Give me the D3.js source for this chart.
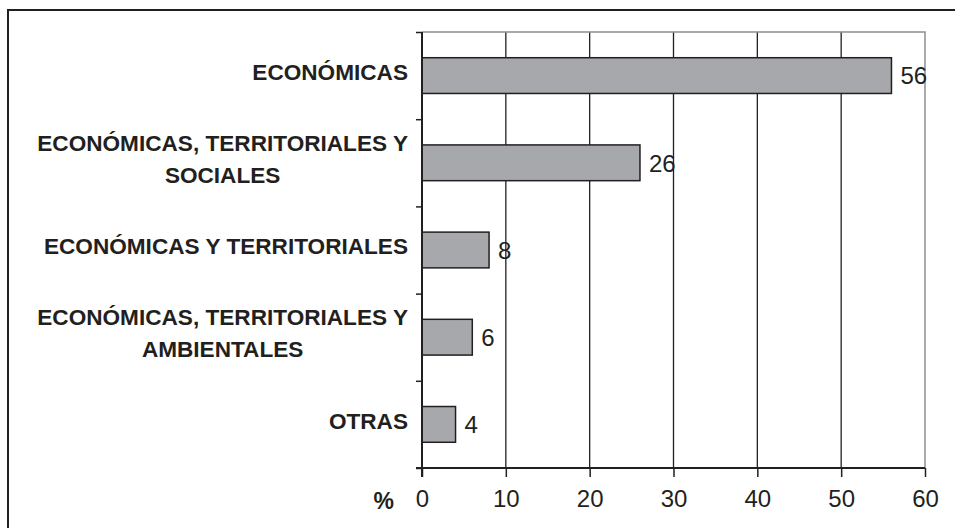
<!DOCTYPE html>
<html>
<head>
<meta charset="utf-8">
<script src="https://cdn.jsdelivr.net/npm/d3@7"></script>
<style>
  body { margin: 0; background: #fff; }
  svg { display: block; }
  text { font-family: "Liberation Sans", Arial, Helvetica, sans-serif; fill: #231f20; }
</style>
</head>
<body>
<div id="chart"></div>
<script>
// data
var categories = [
  ["ECONÓMICAS"],
  ["ECONÓMICAS, TERRITORIALES Y", "SOCIALES"],
  ["ECONÓMICAS Y TERRITORIALES"],
  ["ECONÓMICAS, TERRITORIALES Y", "AMBIENTALES"],
  ["OTRAS"]
];
var values = [56, 26, 8, 6, 4];
var xTicks = [0, 10, 20, 30, 40, 50, 60];
var xUnit = "%";

var W = 955, H = 528;
// plot box (note: "top" is reserved on window, so use plot* names)
var plotL = 422, plotR = 925, plotT = 32, plotB = 468;
var ink = "#231f20";

var svg = d3.select("#chart").append("svg")
  .attr("width", W).attr("height", H);

// outer frame (only top and left visible in the crop)
svg.append("line").attr("x1", 8).attr("x2", W).attr("y1", 10).attr("y2", 10)
  .attr("stroke", ink).attr("stroke-width", 2);
svg.append("line").attr("x1", 8).attr("x2", 8).attr("y1", 9).attr("y2", H)
  .attr("stroke", ink).attr("stroke-width", 2);

var x = d3.scaleLinear().domain([0, 60]).range([plotL, plotR]);
var y = d3.scaleBand().domain(d3.range(categories.length))
  .range([plotT, plotB]).paddingInner(0.59).paddingOuter(0.295);
var yEdge = d3.scaleLinear().domain([0, categories.length]).range([plotT, plotB]);

// gridlines
svg.append("g").selectAll("line")
  .data(xTicks.filter(function(d) { return d > 0 && d < 60; }))
  .enter().append("line")
  .attr("x1", function(d) { return x(d); })
  .attr("x2", function(d) { return x(d); })
  .attr("y1", plotT).attr("y2", plotB)
  .attr("stroke", ink).attr("stroke-width", 1.3);

// plot area border (grey, top and right)
svg.append("path")
  .attr("d", "M" + plotL + "," + plotT + "H" + plotR + "V" + plotB)
  .attr("fill", "none").attr("stroke", "#8e8e8e").attr("stroke-width", 1.5);

// bars
svg.append("g").selectAll("rect")
  .data(values)
  .enter().append("rect")
  .attr("x", x(0))
  .attr("y", function(d, i) { return y(i); })
  .attr("width", function(d) { return x(d) - x(0); })
  .attr("height", y.bandwidth())
  .attr("fill", "#a7a8ab")
  .attr("stroke", ink).attr("stroke-width", 1.5);

// value labels
svg.append("g").selectAll("text")
  .data(values)
  .enter().append("text")
  .attr("x", function(d) { return x(d) + 9; })
  .attr("y", function(d, i) { return y(i) + y.bandwidth() / 2; })
  .attr("dy", "0.37em")
  .style("font-size", "24px")
  .text(function(d) { return d; });

// y axis: ticks at category boundaries
var yAxis = svg.append("g").attr("transform", "translate(" + plotL + ",0)")
  .call(d3.axisLeft(yEdge).tickValues(d3.range(categories.length + 1))
    .tickSize(6).tickFormat(""));
yAxis.select(".domain").remove();
yAxis.selectAll("line").attr("stroke", ink).attr("stroke-width", 1.5);
svg.append("line").attr("x1", plotL).attr("x2", plotL)
  .attr("y1", plotT).attr("y2", plotB + 9)
  .attr("stroke", ink).attr("stroke-width", 2);

// x axis
var xAxis = svg.append("g").attr("transform", "translate(0," + plotB + ")")
  .call(d3.axisBottom(x).tickValues(xTicks).tickSize(9).tickPadding(13));
xAxis.select(".domain").remove();
xAxis.selectAll("line").attr("stroke", ink).attr("stroke-width", 1.5);
xAxis.selectAll("text").style("font-size", "24px").attr("fill", ink)
  .style("font-family", "'Liberation Sans', Arial, sans-serif");
svg.append("line").attr("x1", plotL - 6).attr("x2", plotR)
  .attr("y1", plotB).attr("y2", plotB)
  .attr("stroke", ink).attr("stroke-width", 2);

svg.append("text")
  .attr("x", 394).attr("y", plotB + 41)
  .attr("text-anchor", "end")
  .style("font-size", "23px").style("font-weight", "bold")
  .text(xUnit);

// category labels, right edge near the axis, multi-line blocks centred
var labelRight = 408, lineGap = 32;
categories.forEach(function(lines, i) {
  var g = svg.append("g");
  var cy = y(i) + y.bandwidth() / 2 - 4;
  var n = lines.length;
  var texts = g.selectAll("text").data(lines).enter().append("text")
    .style("font-size", "22.6px").style("font-weight", "bold")
    .attr("y", function(d, j) { return cy + (j - (n - 1) / 2) * lineGap; })
    .attr("dy", "0.36em")
    .text(function(d) { return d; });
  var maxW = d3.max(texts.nodes(), function(t) { return t.getComputedTextLength(); });
  texts.attr("text-anchor", "middle").attr("x", labelRight - maxW / 2);
});
</script>
</body>
</html>
